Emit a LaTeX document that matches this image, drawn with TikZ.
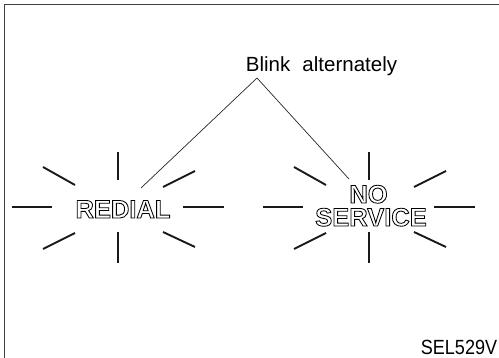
\documentclass[tikz,border=0pt]{standalone}
\usepackage{fontspec}
\setmainfont{Liberation Sans}
\newcommand\outlinetext[1]{\special{pdf:literal direct 1 Tr 0.85 w}#1\special{pdf:literal direct 0 Tr}}
\tikzset{
  ray/.style={line width=1.9pt, black!90},
  conn/.style={line width=0.7pt, black!85},
  frameline/.style={line width=1.4pt, black!75},
  bigtext/.style={inner sep=0pt, anchor=base, font=\bfseries\fontsize{25.5}{23}\selectfont},
  pics/burst/.style={code={
    \draw[ray] (0,-27) -- (0,-55);
    \draw[ray] (0,25) -- (0,56);
    \draw[ray] (-66,0) -- (-106,0);
    \draw[ray] (65,0) -- (106,0);
    \draw[ray] (-43,-22) -- (-75,-40);
    \draw[ray] (45,-20) -- (77,-36);
    \draw[ray] (-43,26) -- (-75,42);
    \draw[ray] (45,25) -- (77,40);
  }}
}
\begin{document}
\begin{tikzpicture}[x=1pt,y=-1pt]
\useasboundingbox (0,0) rectangle (499,358);
\draw[frameline] (4.5,358) -- (4.5,4.5) -- (499,4.5);
% labels
\node[inner sep=0pt, anchor=base, font=\fontsize{20.5}{20.5}\selectfont] (blink) at (321.5,72) {Blink\hspace{6.5pt} alternately};
\node[bigtext] (redial) at (123,218) {\outlinetext{REDIAL}};
\node[bigtext] (no) at (368.5,203) {\outlinetext{NO}};
\node[bigtext] (service) at (371,226) {\outlinetext{SERVICE}};
\node[inner sep=0pt, anchor=base] (code) at (459,355) {\scalebox{0.88}[1]{\fontsize{20.5}{20.5}\selectfont SEL529V}};
% bursts
\pic at (118,207) {burst};
\pic at (369,207) {burst};
% connectors
\coordinate (apex) at (257,78);
\coordinate (redialend) at (141,188);
\coordinate (noend) at (349,179);
\draw[conn] (redialend) -- (apex) -- (noend);
\end{tikzpicture}
\end{document}
